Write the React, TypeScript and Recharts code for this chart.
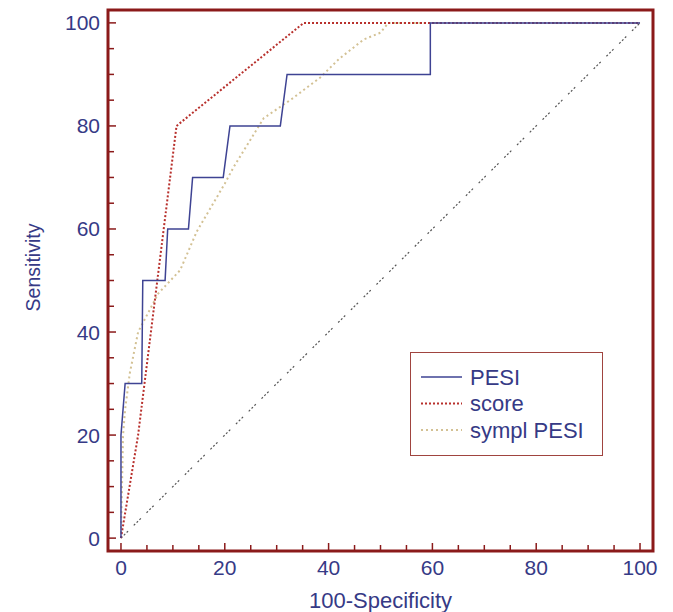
import React from 'react'
import { LineChart, Line, XAxis, YAxis, ReferenceArea, Legend, Label } from 'recharts'

// ROC points (x = 100-Specificity, y = Sensitivity)
const pesiX = [0, 0, 0.8, 4, 4.2, 8.5, 9, 13, 13.8, 19.7, 21, 30.7, 32, 59.6, 59.6, 100]
const pesiY = [0, 20, 30, 30, 50, 50, 60, 60, 70, 70, 80, 80, 90, 90, 100, 100]

const scoreX = [0, 3.3, 10.7, 35.2, 100]
const scoreY = [0, 20, 80, 100, 100]

const symplX = [0, 0.4, 0.8, 1.7, 3.3, 7.2, 11.4, 14.6, 20, 21.7, 27.5, 33, 38.4, 42, 46.8, 50, 51.5, 100]
const symplY = [0, 20, 25, 32, 40, 47.5, 52, 59.5, 68.8, 72, 81.5, 85.3, 89.4, 93, 96.8, 98.1, 100, 100]

const diagX = [0, 100]
const diagY = [0, 100]

const axisTicks = [0, 5, 10, 15, 20, 25, 30, 35, 40, 45, 50, 55, 60, 65, 70, 75, 80, 85, 90, 95, 100]

const TEXT = '#363a86'
const FRAME = '#8b1a1a'
const FONT = 'Liberation Sans, Arial, sans-serif'

const toPoints = (xs: number[], ys: number[]) => xs.map((x, i) => ({ x, y: ys[i] }))

const styles: Record<string, { color: string; dash?: string; width: number }> = {
  PESI: { color: '#3e4393', width: 1.5 },
  score: { color: '#b8302c', dash: '2 2', width: 2 },
  'sympl PESI': { color: '#d3c194', dash: '2 3', width: 2 },
}

function XTick(props: any) {
  const { x, y, payload } = props
  const v = payload.value
  const major = v % 20 === 0
  return (
    <g>
      <line x1={x} x2={x} y1={y} y2={y - (major ? 8 : 6)} stroke={FRAME} strokeWidth={1.5} />
      {major && (
        <text x={x} y={y + 24} textAnchor="middle" fill={TEXT} fontSize={21} fontFamily={FONT}>
          {v}
        </text>
      )}
    </g>
  )
}

function YTick(props: any) {
  const { x, y, payload } = props
  const v = payload.value
  const major = v % 20 === 0
  return (
    <g>
      <line x1={x} x2={x + (major ? 8 : 6)} y1={y} y2={y} stroke={FRAME} strokeWidth={1.5} />
      {major && (
        <text x={x - 8} y={y + 7.5} textAnchor="end" fill={TEXT} fontSize={21} fontFamily={FONT}>
          {v}
        </text>
      )}
    </g>
  )
}

function LegendBox({ payload }: any) {
  const items = (payload || []).filter((p: any) => styles[p.value])
  return (
    <div style={{ width: 193, height: 104, border: '1.5px solid #a0443f', background: '#fff', boxSizing: 'border-box' }}>
      <svg width={190} height={101}>
        {items.map((p: any, i: number) => {
          const s = styles[p.value]
          const cy = 24 + i * 26.5
          return (
            <g key={p.value}>
              <line x1={10} x2={51} y1={cy} y2={cy} stroke={s.color} strokeWidth={s.width} strokeDasharray={s.dash} />
              <text x={59} y={cy + 7.5} fill={TEXT} fontSize={22} fontFamily={FONT}>
                {p.value}
              </text>
            </g>
          )
        })}
      </svg>
    </div>
  )
}

export default function App() {
  return (
    <div>
      <style>{'body{margin:0}'}</style>
      <LineChart width={673} height={612} margin={{ top: 10, right: 20, left: 0, bottom: 0 }}>
        <XAxis
          type="number"
          dataKey="x"
          domain={[-2.5, 102.5]}
          ticks={axisTicks}
          interval={0}
          height={61}
          axisLine={false}
          tickLine={false}
          tickSize={0}
          tickMargin={0}
          tick={<XTick />}
        >
          <Label
            content={({ viewBox }: any) => (
              <text x={viewBox.x + viewBox.width / 2} y={viewBox.y + 57} textAnchor="middle" fill={TEXT} fontSize={22} fontFamily={FONT}>
                100-Specificity
              </text>
            )}
          />
        </XAxis>
        <YAxis
          type="number"
          dataKey="y"
          domain={[-2.5, 102.5]}
          ticks={axisTicks}
          interval={0}
          width={108}
          axisLine={false}
          tickLine={false}
          tickSize={0}
          tickMargin={0}
          tick={<YTick />}
        >
          <Label
            content={({ viewBox }: any) => {
              const cx = 33
              const cy = viewBox.y + viewBox.height / 2 - 13
              return (
                <text x={cx} y={cy} transform={`rotate(-90 ${cx} ${cy})`} textAnchor="middle" dominantBaseline="central" fill={TEXT} fontSize={19.5} fontFamily={FONT}>
                  Sensitivity
                </text>
              )
            }}
          />
        </YAxis>
        <Line data={toPoints(diagX, diagY)} dataKey="y" name="diag" legendType="none" stroke="#555" strokeWidth={1.2} strokeDasharray="2 2 2 2 2 8" dot={false} activeDot={false} isAnimationActive={false} />
        <Line data={toPoints(symplX, symplY)} dataKey="y" name="sympl PESI" stroke={styles['sympl PESI'].color} strokeWidth={2} strokeDasharray="2 3" dot={false} activeDot={false} isAnimationActive={false} />
        <Line data={toPoints(scoreX, scoreY)} dataKey="y" name="score" stroke={styles.score.color} strokeWidth={2} strokeDasharray="2 2" dot={false} activeDot={false} isAnimationActive={false} />
        <Line data={toPoints(pesiX, pesiY)} dataKey="y" name="PESI" stroke={styles.PESI.color} strokeWidth={1.5} dot={false} activeDot={false} isAnimationActive={false} />
        <ReferenceArea x1={-2.5} x2={102.5} y1={-2.5} y2={102.5} fill="none" stroke={FRAME} strokeWidth={3} />
        <Legend
          layout="vertical"
          align="center"
          verticalAlign="middle"
          content={<LegendBox />}
          wrapperStyle={{ left: 410, top: 352, width: 193, height: 104 }}
        />
      </LineChart>
    </div>
  )
}
